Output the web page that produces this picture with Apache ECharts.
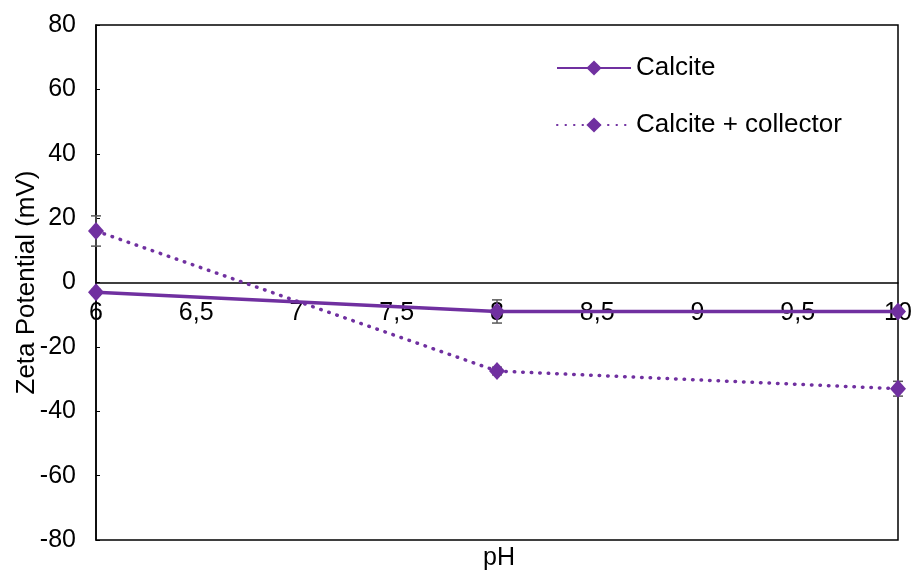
<!DOCTYPE html>
<html>
<head>
<meta charset="utf-8">
<script src="https://cdn.jsdelivr.net/npm/echarts@6/dist/echarts.min.js"></script>
<style>html,body{margin:0;padding:0;background:#fff}#c{width:911px;height:572px}</style>
</head>
<body>
<div id="c"></div>
<script>
// pH values and zeta potential readings (mV)
const phValues = [6, 8, 10];
const calcite = [-3, -9, -9];
const calciteErr = [0.8, 3.6, 0.8];
const collector = [16, -27.5, -33];
const collectorErr = [4.7, 1.2, 2.3];
const seriesNames = ['Calcite', 'Calcite + collector'];

const purple = '#7030A0';
const font = 'Liberation Sans, Arial, sans-serif';

// plot box
const gridTop = 25, gridBottom = 32, chartH = 572;
const yMin = -80, yMax = 80;
// shift the pH axis up so it runs along the zero line
const plotH = chartH - gridTop - gridBottom;
const zeroOffset = -plotH * (0 - yMin) / (yMax - yMin);

function errorData(xs, ys, es) {
  return xs.map((x, i) => [x, ys[i] - es[i], ys[i] + es[i]]);
}

function renderErr(params, api) {
  const x = api.value(0);
  const lo = api.coord([x, api.value(1)]);
  const hi = api.coord([x, api.value(2)]);
  const w = 5;
  const style = { stroke: '#595959', lineWidth: 1.5 };
  return {
    type: 'group',
    children: [
      { type: 'line', shape: { x1: lo[0], y1: lo[1], x2: hi[0], y2: hi[1] }, style },
      { type: 'line', shape: { x1: lo[0] - w, y1: lo[1], x2: lo[0] + w, y2: lo[1] }, style },
      { type: 'line', shape: { x1: hi[0] - w, y1: hi[1], x2: hi[0] + w, y2: hi[1] }, style }
    ]
  };
}

const chart = echarts.init(document.getElementById('c'));
chart.setOption({
  animation: false,
  grid: {
    left: 96, right: 13, top: gridTop, bottom: gridBottom,
    containLabel: false, outerBoundsMode: 'none',
    show: true, borderColor: '#000', borderWidth: 1.5, backgroundColor: 'transparent'
  },
  legend: {
    orient: 'vertical', left: 551, top: 50, itemGap: 31, itemWidth: 74, itemHeight: 19,
    textStyle: { fontFamily: font, fontSize: 26, color: '#000' },
    data: seriesNames
  },
  xAxis: {
    type: 'value', min: 6, max: 10, interval: 0.5,
    offset: zeroOffset,
    axisLine: { onZero: false, lineStyle: { color: '#000', width: 1.5 } },
    axisTick: { show: false },
    splitLine: { show: false },
    axisLabel: {
      color: '#000', fontFamily: font, fontSize: 25, margin: 18,
      formatter: v => String(v).replace('.', ',')
    }
  },
  yAxis: {
    type: 'value', min: yMin, max: yMax, interval: 20,
    name: 'Zeta Potential (mV)', nameLocation: 'middle', nameGap: 56,
    nameMoveOverlap: false,
    nameTextStyle: { fontFamily: font, fontSize: 26, color: '#000' },
    axisLine: { show: true, lineStyle: { color: '#000', width: 1.5 } },
    axisTick: { show: true, inside: true, length: 4, lineStyle: { color: '#000' } },
    splitLine: { show: false },
    axisLabel: { color: '#000', fontFamily: font, fontSize: 25, margin: 20 }
  },
  graphic: [{
    type: 'text', left: 483, top: 546,
    style: { text: 'pH', font: '25px ' + font, fill: '#000' }
  }],
  series: [
    {
      type: 'custom', renderItem: renderErr, z: 1, silent: true,
      encode: { x: 0, y: [1, 2] },
      data: errorData(phValues, calcite, calciteErr)
    },
    {
      type: 'custom', renderItem: renderErr, z: 1, silent: true,
      encode: { x: 0, y: [1, 2] },
      data: errorData(phValues, collector, collectorErr)
    },
    {
      name: seriesNames[0], type: 'line', z: 3,
      data: phValues.map((x, i) => [x, calcite[i]]),
      symbol: 'diamond', symbolSize: [16, 18],
      lineStyle: { color: purple, width: 3.5 },
      itemStyle: { color: purple }
    },
    {
      name: seriesNames[1], type: 'line', z: 3,
      data: phValues.map((x, i) => [x, collector[i]]),
      symbol: 'diamond', symbolSize: [16, 18],
      lineStyle: { color: purple, width: 3.5, type: [0.5, 8], cap: 'round' },
      itemStyle: { color: purple }
    }
  ]
});
</script>
</body>
</html>
